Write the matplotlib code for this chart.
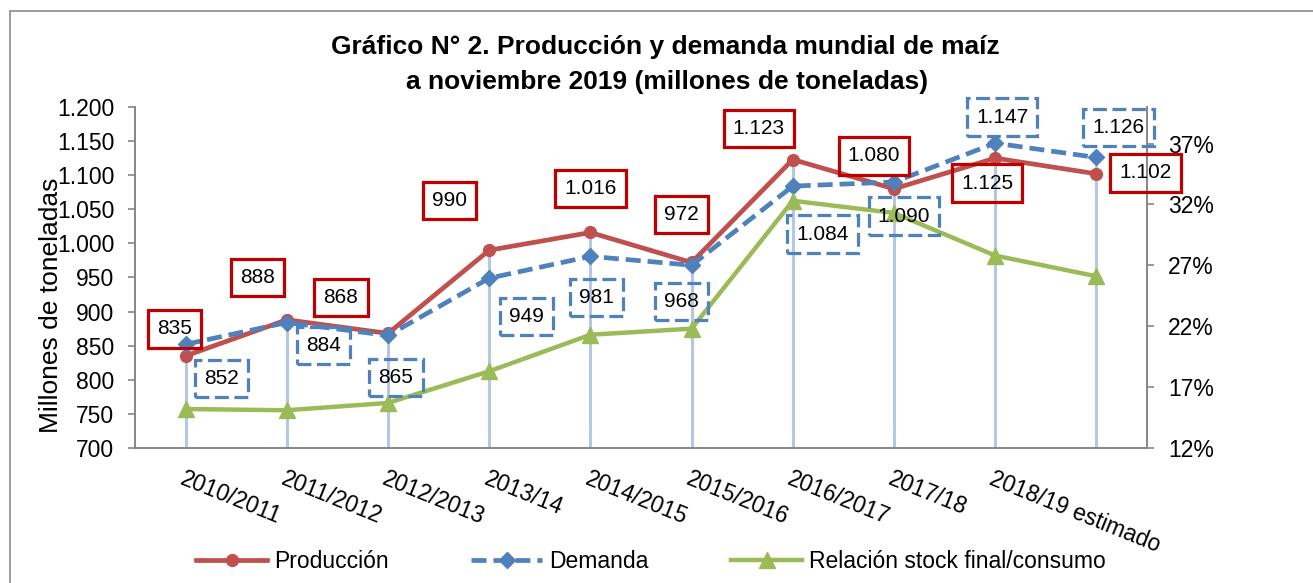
import matplotlib
matplotlib.use('Agg')
import matplotlib.pyplot as plt
from matplotlib.patches import Rectangle
from matplotlib.ticker import FuncFormatter, MultipleLocator

plt.rcParams['font.family'] = ['Liberation Sans', 'DejaVu Sans']
plt.rcParams['lines.scale_dashes'] = False

# datos (millones de toneladas y % stock final/consumo)
campanas = ['2010/2011', '2011/2012', '2012/2013', '2013/14', '2014/2015',
            '2015/2016', '2016/2017', '2017/18', '2018/19 estimado', '']
produccion = [835, 888, 868, 990, 1016, 972, 1123, 1080, 1125, 1102]
demanda = [852, 884, 865, 949, 981, 968, 1084, 1090, 1147, 1126]
stock_consumo = [15.2, 15.1, 15.7, 18.3, 21.3, 21.8, 32.3, 31.3, 27.8, 26.1]

# posicion de las etiquetas (pixeles respecto al punto)
off_prod = [(-11, 27), (-29, 42), (-47, 36), (-40, 50), (0, 44), (-10, 48),
            (-34, 31), (-20, 33), (-8, -25), (49, 1)]
off_dem = [(36, -34), (37, -23), (8, -42), (37, -38), (6, -41), (-10, -36),
           (30, -48), (10, -34), (7, 26), (22, 30)]

ROJO = '#C0504D'
AZUL = '#4F81BD'
VERDE = '#9BBB59'
GRIS = '#868686'

W, H = 1313, 583
fig = plt.figure(figsize=(W / 100, H / 100), dpi=100)

# marco del grafico
fig.patches.append(Rectangle((10 / W, -0.1), 1.2, 1 - 11 / H + 0.1, transform=fig.transFigure,
                             fill=False, ec='#8c8c8c', lw=1.2))

ax = fig.add_axes([135 / W, 1 - 448 / H, (1147 - 135) / W, (448 - 107) / H])
ax2 = ax.twinx()

x = list(range(len(campanas)))
tope = [max(p, d) for p, d in zip(produccion, demanda)]
ax.vlines(x, 700, tope, color='#B4C7E7', lw=2.2, zorder=1)

l1, = ax.plot(x, produccion, color=ROJO, lw=3.4, marker='o', ms=8.5, zorder=3,
              label='Producción')
l2, = ax.plot(x, demanda, color=AZUL, lw=3.4, dashes=(10.8, 5), marker='D', ms=8,
              zorder=4, label='Demanda')
l3, = ax2.plot(x, stock_consumo, color=VERDE, lw=3.2, marker='^', ms=12, zorder=3,
               label='Relación stock final/consumo')

ax.set_xlim(-0.5, len(campanas) - 0.5)
ax.set_ylim(700, 1200)
ax.yaxis.set_major_locator(MultipleLocator(50))
ax.yaxis.set_major_formatter(FuncFormatter(lambda v, p: f'{int(v):,}'.replace(',', '.')))
ax2.set_ylim(12, 40)
ax2.set_yticks([12, 17, 22, 27, 32, 37])
ax2.set_yticklabels([f'{t}%' for t in [12, 17, 22, 27, 32, 37]])

ax.set_xticks(x)
ax.set_xticklabels(campanas)
ax.tick_params(axis='x', length=0, pad=14, labelsize=16.5)
for lbl in ax.get_xticklabels():
    lbl.set_rotation(-22)
    lbl.set_ha('left')
    lbl.set_rotation_mode('anchor')
ax.tick_params(axis='y', length=5, width=1.2, color=GRIS, pad=10, labelsize=16.5)
ax2.tick_params(axis='y', length=5, width=1.2, color=GRIS, pad=10, labelsize=16.5)

for a in (ax, ax2):
    a.spines['top'].set_visible(False)
    for s in a.spines.values():
        s.set_color(GRIS)
        s.set_linewidth(1.4)
ax.spines['right'].set_visible(False)
ax2.spines['left'].set_visible(False)
ax2.spines['bottom'].set_visible(False)

fmt = lambda v: f'{v:,}'.replace(',', '.')
for i in x:
    ax2.annotate(fmt(produccion[i]), xy=(i, produccion[i]), xycoords=ax.transData,
                 xytext=off_prod[i], textcoords='offset pixels', ha='center', va='center',
                 fontsize=15, zorder=6, annotation_clip=False,
                 bbox=dict(boxstyle='square,pad=0.44', fc='none', ec='#C00000', lw=2.3))
    ax2.annotate(fmt(demanda[i]), xy=(i, demanda[i]), xycoords=ax.transData,
                 xytext=off_dem[i], textcoords='offset pixels', ha='center', va='center',
                 fontsize=15, zorder=6, annotation_clip=False,
                 bbox=dict(boxstyle='square,pad=0.44', fc='none', ec=AZUL, lw=2.3,
                           ls=(0, (10, 4))))

fig.text(665 / W, 1 - 47 / H, 'Gráfico N° 2. Producción y demanda mundial de maíz',
         ha='center', va='center', fontsize=19, fontweight='bold')
fig.text(667 / W, 1 - 82 / H, 'a noviembre 2019 (millones de toneladas)',
         ha='center', va='center', fontsize=19, fontweight='bold')
fig.text(51 / W, 1 - 305 / H, 'Millones de toneladas', rotation=90,
         ha='center', va='center', fontsize=19)

fig.legend([l1, l2, l3], [l1.get_label(), l2.get_label(), l3.get_label()],
           loc='center', bbox_to_anchor=(651 / W, 1 - 562 / H), ncol=3, frameon=False,
           fontsize=16.5, handlelength=3.1, handletextpad=0.3, columnspacing=3.6)

fig.savefig('out.png', dpi=100)
